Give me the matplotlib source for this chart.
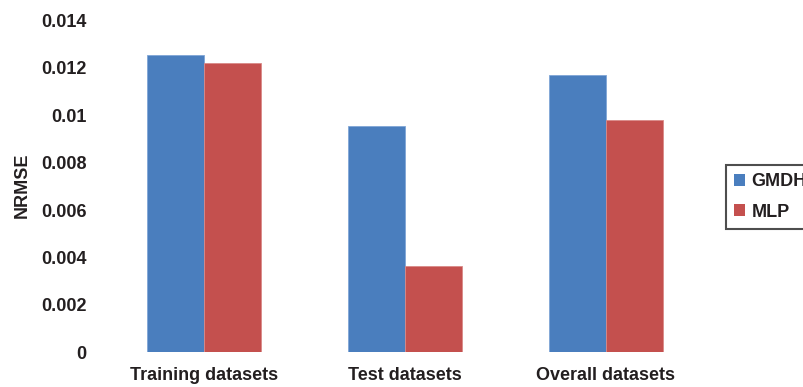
import matplotlib
matplotlib.use("Agg")
import matplotlib.pyplot as plt
import numpy as np
from matplotlib.patches import Patch

# ── data ────────────────────────────────────────────────────────────────────
categories = ["Training datasets", "Test datasets", "Overall datasets"]
gmdh = [0.01254, 0.00954, 0.01169]
mlp = [0.01222, 0.00365, 0.00980]
series_names = ["GMDH", "MLP"]
y_ticks = [0, 0.002, 0.004, 0.006, 0.008, 0.01, 0.012, 0.014]
y_tick_labels = ["0", "0.002", "0.004", "0.006", "0.008", "0.01", "0.012", "0.014"]

# ── style ───────────────────────────────────────────────────────────────────
BLUE = "#4A7EBE"
RED = "#C4504E"
TEXT = "#231F20"
plt.rcParams["font.family"] = ["Liberation Sans", "DejaVu Sans"]
plt.rcParams["font.weight"] = "bold"

W, H = 804, 387
fig = plt.figure(figsize=(W / 100, H / 100), dpi=100)

# axes box in pixels: left, right, top, bottom
x0, x1, y_top, y_bot = 103.5, 706.5, 20.5, 352.3
ax = fig.add_axes([x0 / W, 1 - y_bot / H, (x1 - x0) / W, (y_bot - y_top) / H])

x = np.arange(len(categories))
bw = 0.285
ax.bar(x - bw / 2, gmdh, bw, color=BLUE, edgecolor="#7FA6D6", linewidth=0.6)
ax.bar(x + bw / 2, mlp, bw, color=RED, edgecolor="#D98A88", linewidth=0.6)

ax.set_xlim(-0.5, len(categories) - 0.5)
ax.set_ylim(0, 0.014)
ax.set_yticks(y_ticks)
ax.set_yticklabels(y_tick_labels, fontsize=13, fontweight="bold", color=TEXT)
ax.set_xticks(x)
ax.set_xticklabels(categories, fontsize=13, fontweight="bold", color=TEXT)
ax.tick_params(axis="both", length=0)
ax.tick_params(axis="y", pad=12)
ax.tick_params(axis="x", pad=10.5)
for s in ax.spines.values():
    s.set_visible(False)

fig.text(22 / W, 1 - 185 / H, "NRMSE", rotation=90, ha="center", va="center",
         fontsize=13, fontweight="bold", color=TEXT)

handles = [Patch(facecolor=BLUE, edgecolor="none"), Patch(facecolor=RED, edgecolor="none")]
leg = fig.legend(handles, series_names, loc="upper left",
                 bbox_to_anchor=(726 / W, 1 - 165 / H), frameon=True, fancybox=False,
                 prop={"size": 13, "weight": "bold"}, handlelength=0.62, handleheight=0.62,
                 handletextpad=0.35, labelspacing=0.75, borderpad=0.45, borderaxespad=0)
leg.get_frame().set_edgecolor("#222222")
leg.get_frame().set_linewidth(1.5)
for t in leg.get_texts():
    t.set_color(TEXT)

fig.savefig("out.png", dpi=100)
